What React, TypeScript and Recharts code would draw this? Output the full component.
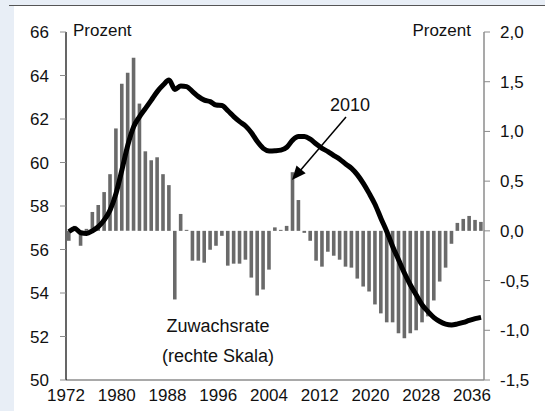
import React from 'react';
import { ComposedChart, Bar, Line, XAxis, YAxis } from 'recharts';

const years = [
  '1972','1973','1974','1975','1976','1977','1978','1979','1980','1981',
  '1982','1983','1984','1985','1986','1987','1988','1989','1990','1991',
  '1992','1993','1994','1995','1996','1997','1998','1999','2000','2001',
  '2002','2003','2004','2005','2006','2007','2008','2009','2010','2011',
  '2012','2013','2014','2015','2016','2017','2018','2019','2020','2021',
  '2022','2023','2024','2025','2026','2027','2028','2029','2030','2031',
  '2032','2033','2034','2035','2036','2037','2038','2039','2040','2041','2042',
];

// Share (left scale, percent)
const share = [
  56.82, 56.97, 56.77, 56.74, 56.86, 57.05, 57.36, 57.82, 58.58, 59.66,
  60.80, 61.65, 62.11, 62.49, 62.87, 63.26, 63.56, 63.79, 63.36, 63.52,
  63.49, 63.26, 63.03, 62.87, 62.80, 62.64, 62.62, 62.38, 62.11, 61.88,
  61.68, 61.37, 60.96, 60.65, 60.53, 60.54, 60.57, 60.70, 61.03, 61.19,
  61.19, 61.07, 60.85, 60.65, 60.50, 60.32, 60.15, 59.93, 59.73, 59.43,
  59.04, 58.58, 58.07, 57.43, 56.82, 56.13, 55.52, 54.91, 54.37, 53.91,
  53.45, 53.14, 52.87, 52.69, 52.57, 52.53, 52.58, 52.65, 52.74, 52.82, 52.88,
];

// Growth rate (right scale, percent)
const growth = [
  -0.10, 0.05, -0.15, 0.02, 0.19, 0.26, 0.39, 0.57, 1.03, 1.48,
  1.59, 1.74, 1.28, 0.80, 0.71, 0.74, 0.57, 0.46, -0.69, 0.17,
  0.01, -0.30, -0.30, -0.32, -0.19, -0.15, -0.05, -0.35, -0.33, -0.33,
  -0.29, -0.47, -0.65, -0.59, -0.39, 0.035, 0.01, 0.05, 0.59, 0.31,
  -0.02, -0.10, -0.30, -0.36, -0.21, -0.25, -0.29, -0.36, -0.37, -0.48,
  -0.56, -0.61, -0.74, -0.83, -0.92, -0.92, -1.03, -1.08, -1.03, -1.00,
  -0.92, -0.86, -0.70, -0.51, -0.37, -0.13, 0.08, 0.12, 0.15, 0.11, 0.09,
];

const xTickLabels = [1972, 1980, 1988, 1996, 2004, 2012, 2020, 2028, 2036];
const leftTicks = [50, 52, 54, 56, 58, 60, 62, 64, 66];
const rightTicks = [-1.5, -1.0, -0.5, 0.0, 0.5, 1.0, 1.5, 2.0];

const data = years.map((y, i) => ({ year: y, yearNum: Number(y), share: share[i], growth: growth[i] }));

const FONT = '"Liberation Sans", Arial, sans-serif';
const fmtRight = (v: number) => v.toFixed(1).replace('.', ',');

export default function App() {
  return (
    <div style={{ position: 'absolute', left: 0, top: 0, width: 545, height: 411, background: '#e8eef6', overflow: 'hidden', fontFamily: FONT }}>
      <div style={{ position: 'absolute', left: 14, top: 6, width: 531, height: 405, background: '#ffffff' }} />
      <div style={{ position: 'absolute', left: 9, top: 5, width: 536, height: 1, background: '#555555' }} />
      <div style={{ position: 'absolute', left: 0, top: 0 }}>
        <ComposedChart width={545} height={411} data={data} margin={{ top: 32, right: 6, left: 6, bottom: 6 }} barCategoryGap={0}>
          <XAxis dataKey="year" xAxisId="cat" hide height={0} />
          <XAxis
            xAxisId="lab"
            dataKey="yearNum"
            type="number"
            domain={[1972, 2037.89]}
            ticks={xTickLabels}
            interval={0}
            allowDataOverflow
            tickLine={false}
            tickSize={0}
            tickMargin={9}
            height={25}
            axisLine={{ stroke: '#8c8c8c', strokeWidth: 1.5 }}
            tick={{ fill: '#111', fontSize: 17, fontFamily: FONT }}
          />
          <YAxis
            yAxisId="left"
            orientation="left"
            width={60}
            domain={[50, 66]}
            ticks={leftTicks}
            interval={0}
            axisLine={{ stroke: '#000', strokeWidth: 1.2 }}
            tickLine={{ stroke: '#8c8c8c' }}
            tickSize={6}
            tickMargin={11}
            tick={{ fill: '#111', fontSize: 17, fontFamily: FONT }}
          />
          <YAxis
            yAxisId="right"
            orientation="right"
            width={55}
            domain={[-1.5, 2.0]}
            ticks={rightTicks}
            interval={0}
            tickFormatter={fmtRight}
            axisLine={{ stroke: '#8c8c8c', strokeWidth: 1.5 }}
            tickLine={{ stroke: '#8c8c8c' }}
            tickSize={6}
            tickMargin={10}
            tick={{ fill: '#111', fontSize: 17, fontFamily: FONT }}
          />
          <Line xAxisId="lab" yAxisId="left" dataKey="share" stroke="none" strokeWidth={0} dot={false} activeDot={false} legendType="none" isAnimationActive={false} />
          <Bar xAxisId="cat" yAxisId="right" dataKey="growth" fill="#6a6a6a" barSize={3.6} isAnimationActive={false} />
          <Line xAxisId="cat" yAxisId="left" dataKey="share" type="monotone" stroke="#000" strokeWidth={5} dot={false} isAnimationActive={false} />
        </ComposedChart>
      </div>
      <svg width={545} height={411} style={{ position: 'absolute', left: 0, top: 0, pointerEvents: 'none' }}>
        <g fontFamily={FONT} fill="#111">
          <text x={73} y={36} fontSize={17}>Prozent</text>
          <text x={471} y={36} fontSize={17} textAnchor="end">Prozent</text>
          <text x={350} y={111} fontSize={18} textAnchor="middle">2010</text>
          <text x={218} y={332} fontSize={18} textAnchor="middle">Zuwachsrate</text>
          <text x={218} y={362} fontSize={18} textAnchor="middle">(rechte Skala)</text>
        </g>
        <line x1={346} y1={117} x2={299} y2={172} stroke="#000" strokeWidth={1.5} />
        <polygon points="292,180 305.7,173.3 296.5,165.5" fill="#000" />
      </svg>
    </div>
  );
}
